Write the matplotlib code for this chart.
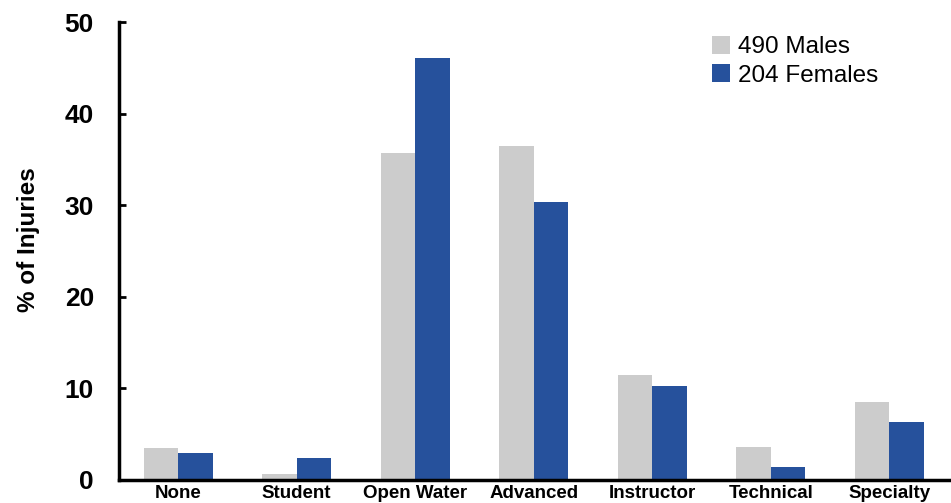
import numpy as np
import matplotlib
matplotlib.use("Agg")
import matplotlib.pyplot as plt

# data
categories = ["None", "Student", "Open Water", "Advanced", "Instructor", "Technical", "Specialty"]
males = [3.5, 0.6, 35.7, 36.5, 11.5, 3.6, 8.5]
females = [2.9, 2.4, 46.1, 30.3, 10.3, 1.4, 6.3]
series_labels = ["490 Males", "204 Females"]
yticks = [0, 10, 20, 30, 40, 50]

plt.rcParams['font.family'] = ['Liberation Sans', 'DejaVu Sans']

fig = plt.figure(figsize=(9.51, 5.03), dpi=100)
ax = fig.add_axes([0.125, 0.046, 0.875, 0.91])

x = np.arange(len(categories))
w = 0.29
ax.bar(x - w / 2, males, width=w, color='#CCCCCC', label=series_labels[0])
ax.bar(x + w / 2, females, width=w, color='#26519C', label=series_labels[1])

ax.set_xlim(-0.5, 6.52)
ax.set_ylim(0, 50)
ax.set_yticks(yticks)
ax.set_yticklabels([str(t) for t in yticks], fontsize=19, fontweight='bold')
ax.set_xticks(x)
ax.set_xticklabels(categories, fontsize=13.5, fontweight='bold')
ax.tick_params(axis='y', direction='in', length=5, width=2, pad=18)
ax.tick_params(axis='x', length=0, pad=4)

for s in ['top', 'right']:
    ax.spines[s].set_visible(False)
ax.spines['left'].set_linewidth(2.5)
ax.spines['bottom'].set_linewidth(2.5)

ax.set_ylabel("% of Injuries", fontsize=17.5, fontweight='bold')
ax.yaxis.set_label_coords(-0.095, 0.525)

ax.legend(loc='upper left', bbox_to_anchor=(0.713, 0.97), frameon=False,
          borderaxespad=0, borderpad=0,
          fontsize=17.5, handlelength=0.75, handleheight=0.75, handletextpad=0.3,
          labelspacing=0.25)

fig.savefig("out.png", dpi=100)
